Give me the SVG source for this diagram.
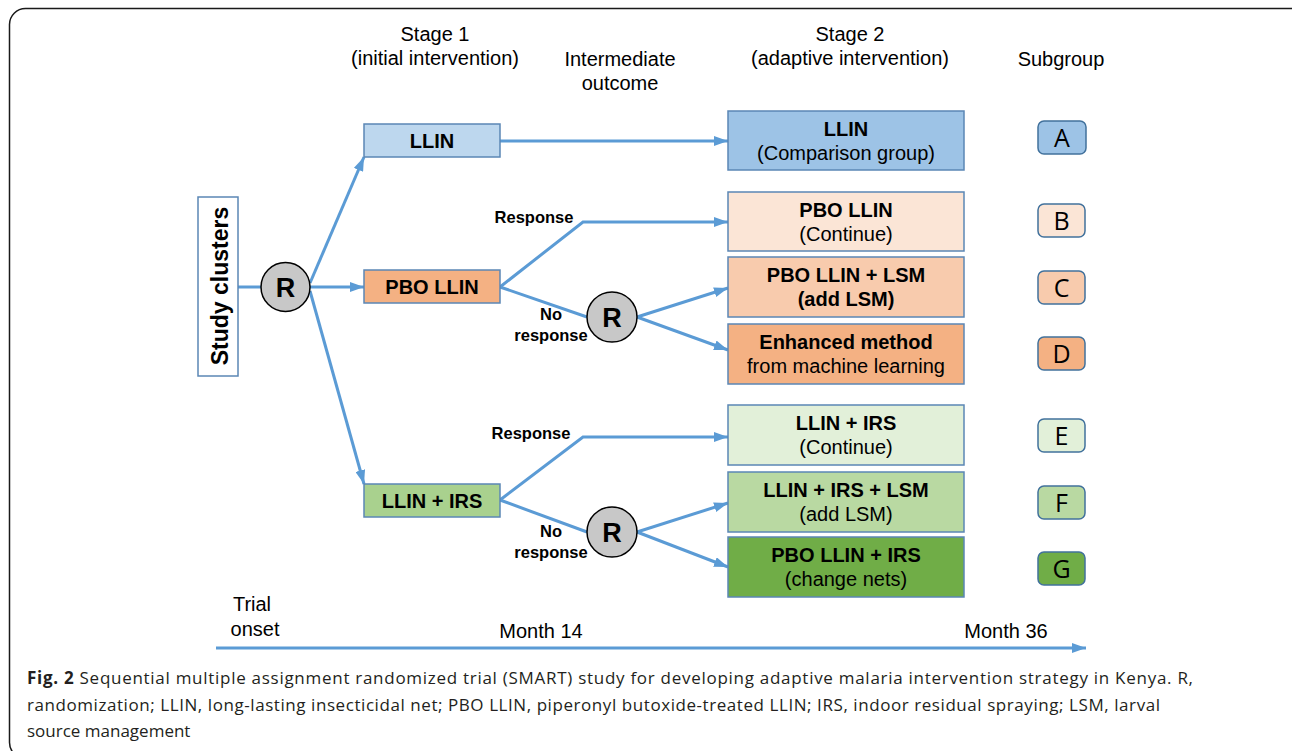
<svg xmlns="http://www.w3.org/2000/svg" width="1292" height="751" viewBox="0 0 1292 751">
<defs>
<style>
.hdr{font-family:"Liberation Sans",Arial,sans-serif;font-size:20px;fill:#000;text-anchor:middle}
.b{font-family:"Liberation Sans",Arial,sans-serif;font-size:20px;font-weight:bold;fill:#000;text-anchor:middle}
.r{font-family:"Liberation Sans",Arial,sans-serif;font-size:20px;fill:#000;text-anchor:middle}
.lbl{font-family:"Liberation Sans",Arial,sans-serif;font-size:16.5px;font-weight:bold;fill:#000;text-anchor:middle}
.rt{font-family:"Liberation Sans",Arial,sans-serif;font-size:27px;font-weight:bold;fill:#000;text-anchor:middle}
.let{font-family:"Open Sans","Liberation Sans",sans-serif;font-size:25px;fill:#000;text-anchor:middle}
.cap{font-family:"Open Sans","Liberation Sans",sans-serif;font-size:17px;fill:#231f20}
.box{stroke:#5b87b5;stroke-width:1.5}
.sg{stroke:#41719c;stroke-width:1.5}
.circ{fill:#c8c8c8;stroke:#000;stroke-width:1.5}
.con{fill:none;stroke:#5b9bd5;stroke-width:3}
</style>
<marker id="ah" markerWidth="14" markerHeight="10" refX="14" refY="5" orient="auto" markerUnits="userSpaceOnUse">
<path d="M0,0 L14,5 L0,10 z" fill="#5b9bd5"/>
</marker>
</defs>
<rect x="0" y="0" width="1292" height="751" fill="#fff"/>
<rect x="9.5" y="8.5" width="1300" height="750" rx="16" fill="none" stroke="#1a1a1a" stroke-width="1.5"/>

<g id="headers">
<text class="hdr" x="435" y="41">Stage 1</text>
<text class="hdr" x="435" y="65">(initial intervention)</text>
<text class="hdr" x="620" y="66">Intermediate</text>
<text class="hdr" x="620" y="90">outcome</text>
<text class="hdr" x="850" y="41">Stage 2</text>
<text class="hdr" x="850" y="65">(adaptive intervention)</text>
<text class="hdr" x="1061" y="66">Subgroup</text>
</g>

<g id="connectors">
<path class="con" d="M238,287 L261,287"/>
<path class="con" d="M310,283 L364,157" marker-end="url(#ah)"/>
<path class="con" d="M310,287 L364,287" marker-end="url(#ah)"/>
<path class="con" d="M310,291 L364,484" marker-end="url(#ah)"/>
<path class="con" d="M500,141 L728,141" marker-end="url(#ah)"/>
<path class="con" d="M500,287 L583,222 L728,222" marker-end="url(#ah)"/>
<path class="con" d="M500,287 L587,317"/>
<path class="con" d="M637,317 L728,288" marker-end="url(#ah)"/>
<path class="con" d="M637,317 L728,350" marker-end="url(#ah)"/>
<path class="con" d="M500,500 L583,437 L728,437" marker-end="url(#ah)"/>
<path class="con" d="M500,500 L587,532"/>
<path class="con" d="M637,532 L728,503" marker-end="url(#ah)"/>
<path class="con" d="M637,532 L728,567" marker-end="url(#ah)"/>
<path class="con" d="M216,648 L1086,648" marker-end="url(#ah)"/>
</g>

<g id="labels">
<text class="lbl" x="534" y="223">Response</text>
<text class="lbl" x="551" y="320">No</text>
<text class="lbl" x="551" y="341">response</text>
<text class="lbl" x="531" y="439">Response</text>
<text class="lbl" x="551" y="537">No</text>
<text class="lbl" x="551" y="558">response</text>
</g>

<g id="study-clusters">
<rect class="box" x="198" y="197" width="40" height="179" fill="#fff"/>
<text class="b" transform="translate(228,286) rotate(-90)" x="0" y="0" style="font-size:23px">Study clusters</text>
</g>

<g id="r1"><circle class="circ" cx="285.5" cy="287" r="24.5"/><text class="rt" x="285.5" y="297">R</text></g>
<g id="r2"><circle class="circ" cx="612" cy="317" r="25"/><text class="rt" x="612" y="327">R</text></g>
<g id="r3"><circle class="circ" cx="612" cy="532" r="25"/><text class="rt" x="612" y="542">R</text></g>

<g id="s1-llin"><rect class="box" x="364" y="124" width="136" height="33" fill="#bdd7ee"/><text class="b" x="432" y="148">LLIN</text></g>
<g id="s1-pbo"><rect class="box" x="364" y="270" width="136" height="33" fill="#f4b183"/><text class="b" x="432" y="294">PBO LLIN</text></g>
<g id="s1-irs"><rect class="box" x="364" y="484" width="136" height="33" fill="#a9d18e"/><text class="b" x="432" y="508">LLIN + IRS</text></g>

<g id="s2-a"><rect class="box" x="728" y="111" width="236" height="59" fill="#9dc3e6"/><text class="b" x="846" y="136">LLIN</text><text class="r" x="846" y="160">(Comparison group)</text></g>
<g id="s2-b"><rect class="box" x="728" y="192" width="236" height="59" fill="#fbe5d6"/><text class="b" x="846" y="217">PBO LLIN</text><text class="r" x="846" y="241">(Continue)</text></g>
<g id="s2-c"><rect class="box" x="728" y="257" width="236" height="60" fill="#f8cbad"/><text class="b" x="846" y="282">PBO LLIN + LSM</text><text class="b" x="846" y="306">(add LSM)</text></g>
<g id="s2-d"><rect class="box" x="728" y="324" width="236" height="60" fill="#f4b183"/><text class="b" x="846" y="349">Enhanced method</text><text class="r" x="846" y="373">from machine learning</text></g>
<g id="s2-e"><rect class="box" x="728" y="405" width="236" height="60" fill="#e2f0d9"/><text class="b" x="846" y="430">LLIN + IRS</text><text class="r" x="846" y="454">(Continue)</text></g>
<g id="s2-f"><rect class="box" x="728" y="472" width="236" height="60" fill="#b9d9a2"/><text class="b" x="846" y="497">LLIN + IRS + LSM</text><text class="r" x="846" y="521">(add LSM)</text></g>
<g id="s2-g"><rect class="box" x="728" y="537" width="236" height="60" fill="#70ad47"/><text class="b" x="846" y="562">PBO LLIN + IRS</text><text class="r" x="846" y="586">(change nets)</text></g>

<g id="sg-a"><rect class="sg" x="1038" y="121" width="48" height="33" rx="6" fill="#9dc3e6"/><text class="let" x="1062" y="147">A</text></g>
<g id="sg-b"><rect class="sg" x="1038" y="204" width="47" height="33" rx="6" fill="#fbe5d6"/><text class="let" x="1061.5" y="230">B</text></g>
<g id="sg-c"><rect class="sg" x="1038" y="271" width="47" height="33" rx="6" fill="#f8cbad"/><text class="let" x="1061.5" y="297">C</text></g>
<g id="sg-d"><rect class="sg" x="1038" y="337" width="47" height="33" rx="6" fill="#f4b183"/><text class="let" x="1061.5" y="363">D</text></g>
<g id="sg-e"><rect class="sg" x="1038" y="419" width="47" height="33" rx="6" fill="#e2f0d9"/><text class="let" x="1061.5" y="445">E</text></g>
<g id="sg-f"><rect class="sg" x="1038" y="486" width="47" height="33" rx="6" fill="#b9d9a2"/><text class="let" x="1061.5" y="512">F</text></g>
<g id="sg-g"><rect class="sg" x="1038" y="552" width="47" height="33" rx="6" fill="#70ad47"/><text class="let" x="1061.5" y="578">G</text></g>

<g id="timeline">
<text class="hdr" x="252" y="611">Trial</text>
<text class="hdr" x="255" y="636">onset</text>
<text class="hdr" x="541" y="638">Month 14</text>
<text class="hdr" x="1006" y="638">Month 36</text>
</g>

<g id="caption">
<text class="cap" x="27" y="684" textLength="1166" lengthAdjust="spacing"><tspan font-weight="bold">Fig. 2</tspan> Sequential multiple assignment randomized trial (SMART) study for developing adaptive malaria intervention strategy in Kenya. R,</text>
<text class="cap" x="27" y="711" textLength="1133" lengthAdjust="spacing">randomization; LLIN, long-lasting insecticidal net; PBO LLIN, piperonyl butoxide-treated LLIN; IRS, indoor residual spraying; LSM, larval</text>
<text class="cap" x="27" y="737">source management</text>
</g>
</svg>
